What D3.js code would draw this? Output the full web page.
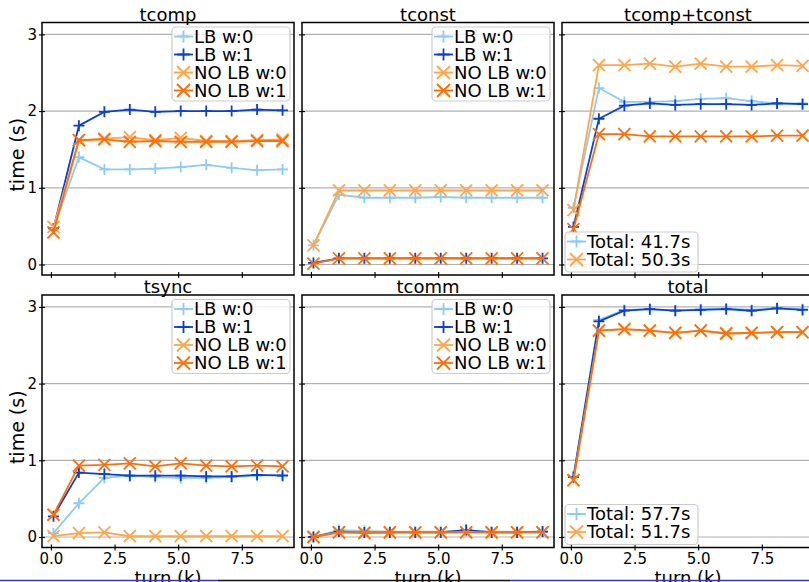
<!DOCTYPE html>
<html>
<head>
<meta charset="utf-8">
<script src="https://cdn.jsdelivr.net/npm/d3@7"></script>
<style>
  html, body { margin: 0; padding: 0; background: #ffffff; }
  svg { display: block; font-family: "DejaVu Sans", sans-serif; }
</style>
</head>
<body>
<svg id="chart" width="809" height="582"></svg>
<script>
// ---------------- data ----------------
const turns = [0.1, 1.1, 2.1, 3.1, 4.1, 5.1, 6.1, 7.1, 8.1, 9.1];
const seriesNames = ["LB w:0", "LB w:1", "NO LB w:0", "NO LB w:1"];
const panelTitles = ["tcomp", "tconst", "tcomp+tconst", "tsync", "tcomm", "total"];
const yTicks = [0, 1, 2, 3];
const xTicks = [0.0, 2.5, 5.0, 7.5];

const tcompLB0 = [0.47, 1.40, 1.24, 1.24, 1.25, 1.27, 1.30, 1.26, 1.23, 1.24];
const tcompLB1 = [0.47, 1.81, 1.99, 2.02, 1.99, 2.00, 2.00, 2.00, 2.02, 2.01];
const tcompNO0 = [0.49, 1.62, 1.64, 1.66, 1.62, 1.65, 1.61, 1.61, 1.62, 1.63];
const tcompNO1 = [0.42, 1.62, 1.63, 1.60, 1.61, 1.60, 1.60, 1.60, 1.61, 1.61];

const tconstLB0 = [0.25, 0.91, 0.87, 0.87, 0.87, 0.88, 0.87, 0.87, 0.87, 0.87];
const tconstLB1 = [0.02, 0.08, 0.08, 0.08, 0.08, 0.08, 0.08, 0.08, 0.08, 0.08];
const tconstNO0 = [0.25, 0.965, 0.965, 0.965, 0.965, 0.965, 0.965, 0.965, 0.965, 0.965];
const tconstNO1 = [0.01, 0.08, 0.08, 0.08, 0.08, 0.08, 0.08, 0.08, 0.08, 0.08];

const tctLB0 = [0.74, 2.30, 2.12, 2.12, 2.13, 2.16, 2.17, 2.13, 2.10, 2.10];
const tctLB1 = [0.49, 1.90, 2.07, 2.10, 2.08, 2.09, 2.09, 2.08, 2.10, 2.09];
const tctNO0 = [0.71, 2.60, 2.60, 2.62, 2.58, 2.62, 2.58, 2.58, 2.60, 2.59];
const tctNO1 = [0.46, 1.70, 1.70, 1.67, 1.67, 1.67, 1.67, 1.67, 1.68, 1.68];

const tsyncLB0 = [0.05, 0.44, 0.77, 0.80, 0.78, 0.77, 0.77, 0.78, 0.80, 0.81];
const tsyncLB1 = [0.27, 0.84, 0.82, 0.80, 0.80, 0.80, 0.79, 0.79, 0.81, 0.80];
const tsyncNO0 = [0.01, 0.05, 0.06, 0.01, 0.01, 0.01, 0.01, 0.01, 0.01, 0.01];
const tsyncNO1 = [0.29, 0.93, 0.94, 0.96, 0.92, 0.96, 0.93, 0.92, 0.93, 0.92];

const tcommLB0 = [0.00, 0.09, 0.08, 0.07, 0.07, 0.07, 0.09, 0.07, 0.07, 0.07];
const tcommLB1 = [0.00, 0.07, 0.06, 0.06, 0.06, 0.06, 0.09, 0.06, 0.06, 0.07];
const tcommNO0 = [0.00, 0.06, 0.06, 0.06, 0.06, 0.06, 0.06, 0.06, 0.06, 0.06];
const tcommNO1 = [0.00, 0.06, 0.05, 0.06, 0.06, 0.06, 0.06, 0.06, 0.06, 0.06];

const totalLB0 = [0.79, 2.83, 2.96, 2.97, 2.95, 2.97, 2.98, 2.96, 2.99, 2.97];
const totalLB1 = [0.78, 2.81, 2.95, 2.97, 2.95, 2.96, 2.97, 2.95, 2.98, 2.96];
const totalNO0 = [0.74, 2.69, 2.71, 2.69, 2.66, 2.69, 2.66, 2.66, 2.67, 2.67];
const totalNO1 = [0.74, 2.69, 2.71, 2.69, 2.66, 2.69, 2.65, 2.66, 2.67, 2.67];

const tctTotals = ["Total: 41.7s", "Total: 50.3s"];
const totalTotals = ["Total: 57.7s", "Total: 51.7s"];

// ---------------- styles ----------------
const colors = ["#8ccbf7", "#0a3ed8", "#ffa54a", "#fb6f0a"];
const markers = ["plus", "plus", "x", "x"];

const panels = [
  { title: panelTitles[0], series: [tcompLB0, tcompLB1, tcompNO0, tcompNO1], legend: "full" },
  { title: panelTitles[1], series: [tconstLB0, tconstLB1, tconstNO0, tconstNO1], legend: "full" },
  { title: panelTitles[2], series: [tctLB0, tctLB1, tctNO0, tctNO1], legend: tctTotals },
  { title: panelTitles[3], series: [tsyncLB0, tsyncLB1, tsyncNO0, tsyncNO1], legend: "full" },
  { title: panelTitles[4], series: [tcommLB0, tcommLB1, tcommNO0, tcommNO1], legend: "full" },
  { title: panelTitles[5], series: [totalLB0, totalLB1, totalNO0, totalNO1], legend: totalTotals }
];

const colLeft = [42, 302, 562];
const rowTop = [22.5, 295];
const pw = 252, ph = 252.5;

const svg = d3.select("#chart");

function markerPath(type, s) {
  if (type === "plus") return `M${-s},0H${s}M0,${-s}V${s}`;
  return `M${-s},${-s}L${s},${s}M${-s},${s}L${s},${-s}`;
}

panels.forEach((p, i) => {
  const col = i % 3, row = Math.floor(i / 3);
  const x0 = colLeft[col], y0 = rowTop[row];
  const x = d3.scaleLinear().domain([-0.35, 9.55]).range([x0, x0 + pw]);
  const y = d3.scaleLinear().domain([-0.137, 3.155]).range([y0 + ph, y0]);
  const g = svg.append("g");

  // grid
  g.selectAll("line.grid").data(yTicks).enter().append("line")
    .attr("x1", x0).attr("x2", x0 + pw)
    .attr("y1", d => y(d)).attr("y2", d => y(d))
    .attr("stroke", "#b0b0b0").attr("stroke-width", 1.2);

  // series
  p.series.forEach((vals, si) => {
    const pts = turns.map((t, k) => [t, vals[k]]);
    const line = d3.line().x(d => x(d[0])).y(d => y(d[1]));
    g.append("path").attr("d", line(pts)).attr("fill", "none")
      .attr("stroke", colors[si]).attr("stroke-width", 1.8);
    const s = markers[si] === "plus" ? 5.5 : 6;
    g.selectAll(null).data(pts).enter().append("path")
      .attr("transform", d => `translate(${x(d[0])},${y(d[1])})`)
      .attr("d", markerPath(markers[si], s))
      .attr("fill", "none").attr("stroke", colors[si]).attr("stroke-width", 1.8);
  });

  // frame
  g.append("rect").attr("x", x0).attr("y", y0).attr("width", pw).attr("height", ph)
    .attr("fill", "none").attr("stroke", "#000").attr("stroke-width", 1.5);

  // y axis ticks (inout) on left
  const yAxis = d3.axisLeft(y).tickValues(yTicks).tickSizeInner(6).tickSizeOuter(0)
    .tickFormat(col === 0 ? d3.format("d") : () => "");
  const ya = g.append("g").attr("transform", `translate(${x0 + 3},0)`).call(yAxis);
  ya.select(".domain").remove();
  ya.selectAll(".tick line").attr("stroke", "#000").attr("stroke-width", 1.1);
  ya.selectAll(".tick text").attr("font-size", 15).attr("font-family", "DejaVu Sans")
    .attr("fill", "#000").attr("x", -8);

  // x axis ticks (inout) at bottom
  const xAxis = d3.axisBottom(x).tickValues(xTicks).tickSizeInner(6).tickSizeOuter(0)
    .tickFormat(row === 1 ? d3.format(".1f") : () => "");
  const xa = g.append("g").attr("transform", `translate(0,${y0 + ph - 3})`).call(xAxis);
  xa.select(".domain").remove();
  xa.selectAll(".tick line").attr("stroke", "#000").attr("stroke-width", 1.1);
  xa.selectAll(".tick text").attr("font-size", 15).attr("font-family", "DejaVu Sans")
    .attr("fill", "#000").attr("y", 9);

  // title
  g.append("text").attr("x", x0 + pw / 2).attr("y", y0 - 2)
    .attr("text-anchor", "middle").attr("font-size", 18).attr("fill", "#000").text(p.title);

  // y label
  if (col === 0) {
    g.append("text")
      .attr("transform", `translate(24,${y0 + ph / 2 + 6}) rotate(-90)`)
      .attr("text-anchor", "middle").attr("font-size", 19).attr("fill", "#000").text("time (s)");
  }
  // x label
  if (row === 1) {
    g.append("text").attr("x", x0 + pw / 2).attr("y", 584)
      .attr("text-anchor", "middle").attr("font-size", 18).attr("fill", "#000").text("turn (k)");
  }

  // legend
  let entries, lx, ly, lw, lh;
  if (p.legend === "full") {
    entries = seriesNames.map((n, k) => ({ label: n, si: k }));
    lx = x0 + 130; ly = y0 + 4.5; lw = 118; lh = 74;
  } else {
    entries = p.legend.map((n, k) => ({ label: n, si: k * 2 }));
    lx = x0 + 3; ly = y0 + ph - 43; lw = 133; lh = 40;
  }
  const lg = g.append("g");
  lg.append("rect").attr("x", lx).attr("y", ly).attr("width", lw).attr("height", lh)
    .attr("rx", 4).attr("fill", "#fff").attr("fill-opacity", 0.8)
    .attr("stroke", "#cccccc").attr("stroke-width", 1.2);
  entries.forEach((e, k) => {
    const cy = ly + 9.5 + k * 18;
    lg.append("line").attr("x1", lx + 2).attr("x2", lx + 21).attr("y1", cy).attr("y2", cy)
      .attr("stroke", colors[e.si]).attr("stroke-width", 1.8);
    lg.append("path").attr("transform", `translate(${lx + 11.5},${cy})`)
      .attr("d", markerPath(markers[e.si], markers[e.si] === "plus" ? 6 : 6.5))
      .attr("fill", "none").attr("stroke", colors[e.si]).attr("stroke-width", 1.8);
    lg.append("text").attr("x", lx + 22).attr("y", cy).attr("dy", "0.36em")
      .attr("font-size", 18).attr("fill", "#000").text(e.label);
  });
});

// bottom strip line (as seen at the bottom edge)
svg.append("line").attr("x1", 0).attr("x2", 218).attr("y1", 580.5).attr("y2", 580.5)
  .attr("stroke", "#3a3ab0").attr("stroke-width", 1.5);
svg.append("line").attr("x1", 218).attr("x2", 510).attr("y1", 580.5).attr("y2", 580.5)
  .attr("stroke", "#111").attr("stroke-width", 1.5);
svg.append("line").attr("x1", 510).attr("x2", 809).attr("y1", 580.5).attr("y2", 580.5)
  .attr("stroke", "#3a3ab0").attr("stroke-width", 1.5);
</script>
</body>
</html>
